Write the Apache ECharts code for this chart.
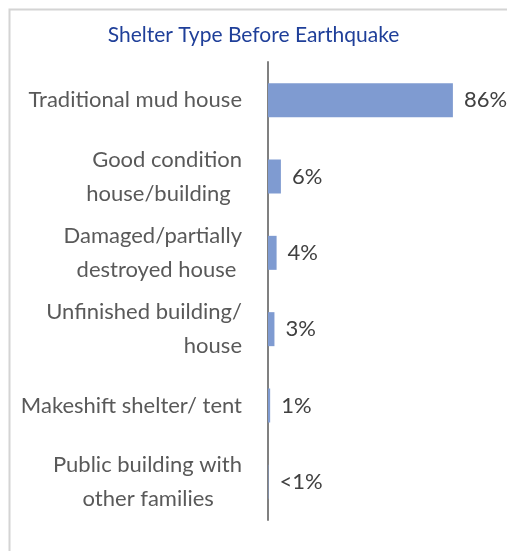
<!DOCTYPE html>
<html><head><meta charset="utf-8">
<script src="https://cdn.jsdelivr.net/npm/echarts@6/dist/echarts.min.js"></script>
<style>html,body{margin:0;padding:0;background:#fff}#c{width:507px;height:551px}</style>
</head><body><div id="c"></div>
<script>
const categories = [
  'Traditional mud house',
  'Good condition\nhouse/building  ',
  'Damaged/partially\ndestroyed house ',
  'Unfinished building/\nhouse',
  'Makeshift shelter/ tent',
  'Public building with\nother families     '
];
const values = [86, 6, 4, 3, 1, 0.2];
const valueLabels = ['86%', '6%', '4%', '3%', '1%', '<1%'];

const chart = echarts.init(document.getElementById('c'));
chart.setOption({
  animation: false,
  backgroundColor: '#fff',
  graphic: [{
    type: 'rect', left: 7, top: 7, silent: true,
    shape: { width: 520, height: 560 },
    style: { fill: 'none', stroke: '#d4d4d4', lineWidth: 2 }
  }],
  title: {
    text: 'Shelter Type Before Earthquake',
    left: 'center', top: 20,
    textStyle: { color: '#1F3F99', fontSize: 21, fontWeight: 'normal', fontFamily: 'Lato' }
  },
  grid: { left: 268, right: 24, top: 62, bottom: 31, containLabel: false },
  xAxis: {
    type: 'value', min: 0, max: 100, show: false
  },
  yAxis: {
    type: 'category', inverse: true, data: categories,
    axisLine: { show: true, lineStyle: { color: '#808080', width: 2 } },
    axisTick: { show: false },
    axisLabel: {
      color: '#595959', fontSize: 22, fontFamily: 'Lato', lineHeight: 34, margin: 26, align: 'right'
    }
  },
  series: [{
    type: 'bar', data: values, barWidth: 34,
    itemStyle: { color: '#7F9BD1' },
    label: {
      show: true, position: 'right', distance: 11,
      color: '#404040', fontSize: 22, fontFamily: 'Lato',
      formatter: p => valueLabels[p.dataIndex]
    }
  }]
});
</script></body></html>
